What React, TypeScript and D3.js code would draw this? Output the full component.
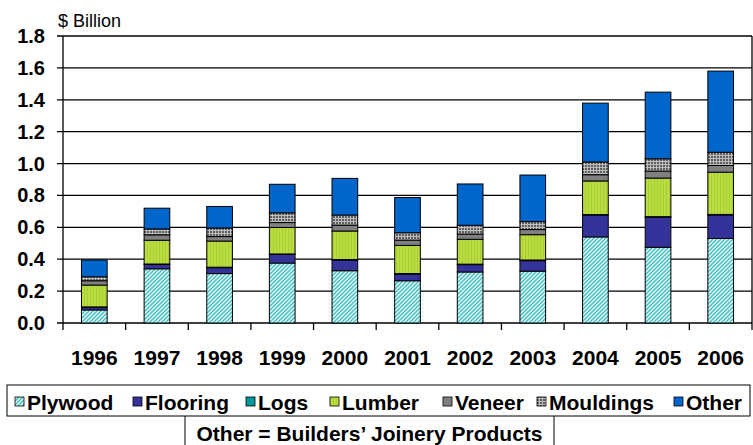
import React from 'react';
import * as d3 from 'd3';

// years on the x axis
const years = ['1996', '1997', '1998', '1999', '2000', '2001', '2002', '2003', '2004', '2005', '2006'];

// $ billion
const plywood = [0.082, 0.34, 0.31, 0.376, 0.328, 0.265, 0.32, 0.325, 0.54, 0.475, 0.53];
const flooring = [0.016, 0.027, 0.037, 0.054, 0.067, 0.042, 0.046, 0.066, 0.136, 0.188, 0.147];
const logs = [0.003, 0.003, 0.003, 0.003, 0.003, 0.003, 0.003, 0.004, 0.004, 0.004, 0.004];
const lumber = [0.137, 0.149, 0.164, 0.166, 0.179, 0.177, 0.156, 0.159, 0.211, 0.242, 0.265];
const veneer = [0.027, 0.034, 0.028, 0.031, 0.037, 0.033, 0.033, 0.032, 0.039, 0.044, 0.042];
const mouldings = [0.025, 0.037, 0.054, 0.061, 0.063, 0.046, 0.055, 0.05, 0.08, 0.077, 0.083];
const other = [0.105, 0.13, 0.135, 0.179, 0.23, 0.221, 0.259, 0.292, 0.369, 0.418, 0.509];

const seriesNames = ['Plywood', 'Flooring', 'Logs', 'Lumber', 'Veneer', 'Mouldings', 'Other'];
const seriesValues = [plywood, flooring, logs, lumber, veneer, mouldings, other];
const yTicks = [0, 0.2, 0.4, 0.6, 0.8, 1.0, 1.2, 1.4, 1.6, 1.8];

const fills: Record<string, string> = {
  Plywood: 'url(#pat-plywood)',
  Flooring: '#333399',
  Logs: '#009999',
  Lumber: 'url(#pat-lumber)',
  Veneer: '#808080',
  Mouldings: 'url(#pat-mouldings)',
  Other: '#0066CC',
};

// legend layout (swatch x)
const legendX = [15, 133, 246, 330, 443, 537, 674];

const font = '"Liberation Sans", Arial, sans-serif';

export default function App() {
  const width = 753;
  const height = 445;
  const left = 63;
  const right = 752;
  const top = 36;
  const bottom = 323;

  const x = d3.scaleBand().domain(years).range([left, right]).paddingInner(0.59).paddingOuter(0.295);
  const y = d3.scaleLinear().domain([0, 1.8]).range([bottom, top]);

  const table = years.map((yr, i) => {
    const row: Record<string, any> = { year: yr };
    seriesNames.forEach((s, j) => (row[s] = seriesValues[j][i]));
    return row;
  });
  const stacked = d3.stack<any>().keys(seriesNames)(table);

  const step = x.step();
  const boundaries = d3.range(years.length + 1).map(i => left + i * step);

  return (
    <svg width={width} height={height} style={{ position: 'absolute', left: 0, top: 0, background: '#fff' }}>
      <defs>
        <pattern id="pat-plywood" width="4" height="4" patternUnits="userSpaceOnUse">
          <rect width="4" height="4" fill="#ffffff" />
          <path d="M-1,1 L1,-1 M0,4 L4,0 M3,5 L5,3" stroke="#4EC4CA" strokeWidth="1.6" />
        </pattern>
        <pattern id="pat-lumber" width="3" height="3" patternUnits="userSpaceOnUse">
          <rect width="3" height="3" fill="#BADD40" />
          <rect x="0" width="1" height="3" fill="#A9CC38" />
        </pattern>
        <pattern id="pat-mouldings" width="3" height="3" patternUnits="userSpaceOnUse">
          <rect width="3" height="3" fill="#BDBDBD" />
          <rect width="2" height="2" fill="#5E5E5E" />
        </pattern>
      </defs>

      {/* y axis label */}
      <text x={58} y={27} fontFamily={font} fontSize={18}>$ Billion</text>

      {/* gridlines and y ticks */}
      {yTicks.map(t => (
        <g key={t}>
          <line x1={57} x2={right} y1={y(t)} y2={y(t)} stroke="#000" strokeWidth={1.3} />
          <text x={45} y={y(t) + 7} textAnchor="end" fontFamily={font} fontSize={20} fontWeight="bold">
            {t.toFixed(1)}
          </text>
        </g>
      ))}
      <line x1={left} x2={left} y1={top} y2={bottom} stroke="#000" strokeWidth={1.3} />
      <line x1={right} x2={right} y1={top} y2={bottom} stroke="#000" strokeWidth={1.3} />

      {/* x ticks */}
      {boundaries.map((b, i) => (
        <line key={i} x1={b} x2={b} y1={bottom} y2={bottom + 7} stroke="#000" strokeWidth={1.3} />
      ))}
      {years.map(yr => (
        <text key={yr} x={(x(yr) as number) + x.bandwidth() / 2} y={365} textAnchor="middle"
          fontFamily={font} fontSize={21} fontWeight="bold">{yr}</text>
      ))}

      {/* bars */}
      {stacked.map(layer => (
        <g key={layer.key}>
          {layer.map((d, i) => (
            <rect key={i} x={x(years[i])} width={x.bandwidth()} y={y(d[1])} height={y(d[0]) - y(d[1])}
              fill={fills[layer.key]} stroke="#000" strokeWidth={1} />
          ))}
        </g>
      ))}

      {/* legend */}
      <rect x={7} y={385} width={743} height={31} fill="none" stroke="#000" strokeWidth={1} />
      {seriesNames.map((s, i) => (
        <g key={s}>
          <rect x={legendX[i]} y={397} width={9} height={9} fill={fills[s]} stroke="#000" strokeWidth={0.8} />
          <text x={legendX[i] + 12} y={410} fontFamily={font} fontSize={21} fontWeight="bold">{s}</text>
        </g>
      ))}
      <line x1={185} x2={185} y1={416} y2={445} stroke="#000" strokeWidth={1} />
      <line x1={554} x2={554} y1={416} y2={445} stroke="#000" strokeWidth={1} />
      <text x={369.5} y={441} textAnchor="middle" fontFamily={font} fontSize={21} fontWeight="bold">
        Other = Builders’ Joinery Products
      </text>
    </svg>
  );
}
